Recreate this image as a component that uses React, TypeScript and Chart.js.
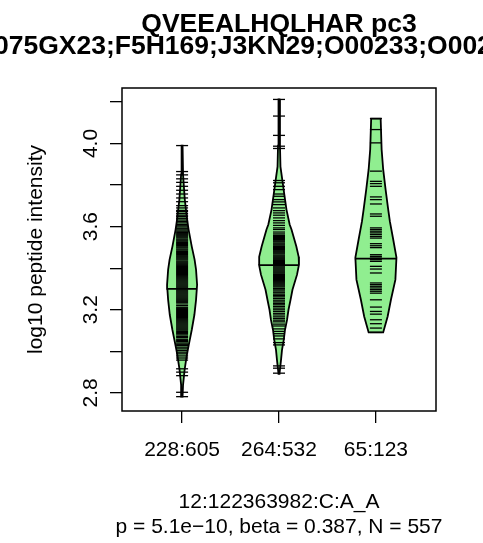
import React, { useEffect, useRef } from 'react';
import { Chart, registerables } from 'chart.js';

Chart.register(...registerables);

const FONT = "'Liberation Sans', Arial, Helvetica, sans-serif";

// ---- text ----
const titleLines = ['QVEEALHQLHAR pc3', 'A0A075GX23;F5H169;J3KN29;O00233;O00231;Q9NY6'];
const subtitleLines = ['12:122363982:C:A_A', 'p = 5.1e\u221210, beta = 0.387, N = 557'];
const yAxisTitle = 'log10 peptide intensity';

// ---- categories / ticks ----
const groupLabels = ['228:605', '264:532', '65:123'];
const groupPositions = [1, 2, 3];
const yTickValues = [2.8, 3.0, 3.2, 3.4, 3.6, 3.8, 4.0, 4.2];
const yTickLabels = ['2.8', '', '3.2', '', '3.6', '', '4.0', ''];

// ---- individual observations (one bean line each) ----
const group1Values = [
  3.99, 3.865, 3.849, 3.83, 3.813, 3.794, 3.775, 3.757, 3.738, 3.72, 3.701, 3.69, 3.678, 3.672,
  3.663, 3.655, 3.648, 3.64, 3.632, 3.625, 3.618, 3.61, 3.604, 3.598, 3.59, 3.584, 3.578, 3.572,
  3.566, 3.561, 3.556, 3.551, 3.546, 3.54, 3.535, 3.53, 3.524, 3.519, 3.514, 3.509, 3.503, 3.498,
  3.492, 3.487, 3.481, 3.476, 3.471, 3.466, 3.46, 3.455, 3.45, 3.445, 3.44, 3.434, 3.429, 3.424,
  3.419, 3.414, 3.409, 3.404, 3.399, 3.394, 3.389, 3.384, 3.379, 3.374, 3.369, 3.364, 3.359, 3.354,
  3.349, 3.344, 3.339, 3.334, 3.329, 3.324, 3.319, 3.314, 3.309, 3.304, 3.296, 3.291, 3.286, 3.281,
  3.276, 3.271, 3.266, 3.261, 3.256, 3.251, 3.246, 3.241, 3.236, 3.228, 3.22, 3.212, 3.207, 3.202,
  3.197, 3.192, 3.187, 3.182, 3.177, 3.172, 3.167, 3.162, 3.157, 3.152, 3.147, 3.142, 3.137, 3.132,
  3.127, 3.122, 3.117, 3.112, 3.107, 3.102, 3.096, 3.09, 3.085, 3.079, 3.072, 3.066, 3.058, 3.052,
  3.047, 3.04, 3.034, 3.028, 3.02, 3.012, 3.004, 2.996, 2.988, 2.978, 2.968, 2.958, 2.916, 2.9,
  2.883, 2.803, 2.782,
];
const group2Values = [
  4.212, 4.132, 4.039, 3.987, 3.976, 3.822, 3.811, 3.794, 3.778, 3.757, 3.746, 3.73, 3.719, 3.706,
  3.69, 3.677, 3.666, 3.655, 3.642, 3.629, 3.618, 3.606, 3.594, 3.586, 3.574, 3.565, 3.558, 3.553,
  3.548, 3.543, 3.538, 3.532, 3.527, 3.521, 3.516, 3.511, 3.505, 3.5, 3.495, 3.49, 3.484, 3.479,
  3.474, 3.469, 3.463, 3.458, 3.453, 3.448, 3.443, 3.437, 3.432, 3.427, 3.422, 3.417, 3.411, 3.406,
  3.401, 3.396, 3.391, 3.386, 3.381, 3.376, 3.37, 3.365, 3.36, 3.355, 3.35, 3.345, 3.34, 3.335,
  3.33, 3.325, 3.32, 3.315, 3.31, 3.303, 3.296, 3.29, 3.282, 3.275, 3.268, 3.262, 3.254, 3.246,
  3.238, 3.231, 3.224, 3.216, 3.208, 3.2, 3.192, 3.183, 3.175, 3.166, 3.158, 3.15, 3.142, 3.131,
  3.122, 3.108, 3.096, 3.085, 3.074, 3.06, 3.042, 3.031, 2.93, 2.919, 2.895,
];
const group3Values = [
  4.12, 4.067, 4.003, 3.867, 3.818, 3.807, 3.794, 3.743, 3.73, 3.709, 3.661, 3.65, 3.594, 3.586,
  3.578, 3.57, 3.562, 3.553, 3.545, 3.518, 3.508, 3.499, 3.465, 3.457, 3.449, 3.441, 3.433, 3.409,
  3.396, 3.377, 3.329, 3.321, 3.313, 3.305, 3.297, 3.289, 3.28, 3.248, 3.213, 3.192, 3.179, 3.152,
  3.133, 3.112, 3.091,
];
const groupMeans = [3.301, 3.415, 3.446];

// ---- density profile of each bean (level, half width in x units) ----
const density1Levels = [2.782, 2.839, 2.911, 2.983, 3.031, 3.104, 3.176, 3.248, 3.32, 3.393, 3.441, 3.504, 3.586, 3.634, 3.73, 3.851, 3.99];
const density1Half = [0.005, 0.01, 0.026, 0.049, 0.069, 0.1, 0.127, 0.144, 0.155, 0.144, 0.129, 0.1, 0.067, 0.052, 0.028, 0.01, 0.005];
const density2Levels = [2.892, 2.959, 3.007, 3.055, 3.104, 3.152, 3.2, 3.248, 3.296, 3.369, 3.417, 3.455, 3.504, 3.586, 3.61, 3.682, 3.754, 3.802, 3.889, 3.99, 4.212];
const density2Half = [0.005, 0.021, 0.031, 0.049, 0.062, 0.083, 0.098, 0.119, 0.139, 0.186, 0.206, 0.203, 0.179, 0.129, 0.11, 0.077, 0.055, 0.041, 0.015, 0.01, 0.005];
const density3Levels = [3.091, 3.168, 3.248, 3.345, 3.451, 3.537, 3.625, 3.682, 3.778, 3.875, 3.971, 4.12];
const density3Half = [0.075, 0.121, 0.155, 0.201, 0.212, 0.179, 0.144, 0.127, 0.1, 0.075, 0.059, 0.049];

const groupValues = [group1Values, group2Values, group3Values];
const densityLevels = [density1Levels, density2Levels, density3Levels];
const densityHalf = [density1Half, density2Half, density3Half];

function interp(levels: number[], half: number[], v: number): number {
  for (let i = 0; i < levels.length - 1; i++) {
    if (v >= levels[i] && v <= levels[i + 1]) {
      const t = (v - levels[i]) / (levels[i + 1] - levels[i]);
      return half[i] + t * (half[i + 1] - half[i]);
    }
  }
  return 0;
}

// closed bean outline; begins and ends on the mean line so that the chord is the mean line
function beanPolygon(c: number, levels: number[], half: number[], mean: number) {
  const hm = interp(levels, half, mean);
  const pts: { x: number; y: number }[] = [{ x: c - hm, y: mean }];
  for (let i = 0; i < levels.length; i++) if (levels[i] > mean) pts.push({ x: c - half[i], y: levels[i] });
  for (let i = levels.length - 1; i >= 0; i--) pts.push({ x: c + half[i], y: levels[i] });
  for (let i = 0; i < levels.length; i++) if (levels[i] < mean) pts.push({ x: c - half[i], y: levels[i] });
  pts.push({ x: c - hm, y: mean });
  pts.push({ x: c + hm, y: mean });
  return pts;
}

const framePlugin = {
  id: 'rFrame',
  afterDraw(chart: any) {
    const { ctx, chartArea: a } = chart;
    ctx.save();
    ctx.strokeStyle = '#000';
    ctx.lineWidth = 1.5;
    ctx.strokeRect(a.left, a.top, a.right - a.left, a.bottom - a.top);
    const cx = (a.left + a.right) / 2;
    ctx.fillStyle = '#000';
    ctx.textAlign = 'center';
    ctx.textBaseline = 'alphabetic';
    ctx.font = `bold 26.5px ${FONT}`;
    ctx.fillText(titleLines[0], cx, 32);
    ctx.fillText(titleLines[1], cx, 53.5);
    ctx.font = `21px ${FONT}`;
    ctx.fillText(subtitleLines[0], cx, 507.5);
    ctx.fillText(subtitleLines[1], cx, 533);
    ctx.restore();
  },
};

export default function App() {
  const ref = useRef<HTMLCanvasElement>(null);
  useEffect(() => {
    const datasets: any[] = [];
    groupPositions.forEach((c, i) => {
      datasets.push({
        type: 'line',
        data: beanPolygon(c, densityLevels[i], densityHalf[i], groupMeans[i]),
        showLine: true,
        fill: 'shape',
        backgroundColor: '#90EE90',
        borderColor: '#000000',
        borderWidth: 1.8,
        pointRadius: 0,
        tension: 0,
        order: 2,
      });
    });
    groupPositions.forEach((c, i) => {
      datasets.push({
        type: 'scatter',
        data: groupValues[i].map((v) => ({ x: c, y: v })),
        pointStyle: 'line',
        pointRadius: 6,
        pointBorderWidth: 1.3,
        pointBorderColor: '#000000',
        pointBackgroundColor: '#000000',
        order: 1,
      });
    });

    const chart = new Chart(ref.current as HTMLCanvasElement, {
      type: 'scatter',
      data: { datasets },
      plugins: [framePlugin],
      options: {
        responsive: false,
        devicePixelRatio: 1,
        animation: false,
        events: [],
        layout: { padding: { left: 0, right: 47, top: 88, bottom: 62 } },
        plugins: { legend: { display: false }, tooltip: { enabled: false }, title: { display: false } },
        scales: {
          x: {
            type: 'linear',
            min: 0.38,
            max: 3.62,
            afterBuildTicks: (s: any) => {
              s.ticks = groupPositions.map((v) => ({ value: v }));
            },
            afterFit: (s: any) => {
              s.height = 70;
            },
            border: { display: false },
            grid: { drawOnChartArea: false, drawTicks: true, tickLength: 12, color: '#000', lineWidth: 1.3 },
            ticks: {
              autoSkip: false,
              maxRotation: 0,
              padding: 15,
              color: '#000',
              font: { family: FONT, size: 21 },
              callback: (_v: any, idx: number) => groupLabels[idx],
            },
          },
          y: {
            type: 'linear',
            min: 2.713,
            max: 4.267,
            afterBuildTicks: (s: any) => {
              s.ticks = yTickValues.map((v) => ({ value: v }));
            },
            afterFit: (s: any) => {
              s.width = 122;
            },
            border: { display: false },
            grid: { drawOnChartArea: false, drawTicks: true, tickLength: 12, color: '#000', lineWidth: 1.3 },
            ticks: {
              autoSkip: false,
              minRotation: 90,
              maxRotation: 90,
              crossAlign: 'center',
              padding: 4,
              color: '#000',
              font: { family: FONT, size: 21 },
              callback: (_v: any, idx: number) => yTickLabels[idx],
            },
            title: {
              display: true,
              text: yAxisTitle,
              color: '#000',
              font: { family: FONT, size: 21 },
              padding: { top: 24, bottom: 0 },
            },
          },
        },
      } as any,
    });
    return () => chart.destroy();
  }, []);

  return (
    <div style={{ position: 'absolute', left: 0, top: 0, width: 483, height: 543, background: '#fff' }}>
      <canvas ref={ref} width={483} height={543} style={{ display: 'block', width: 483, height: 543 }} />
    </div>
  );
}
